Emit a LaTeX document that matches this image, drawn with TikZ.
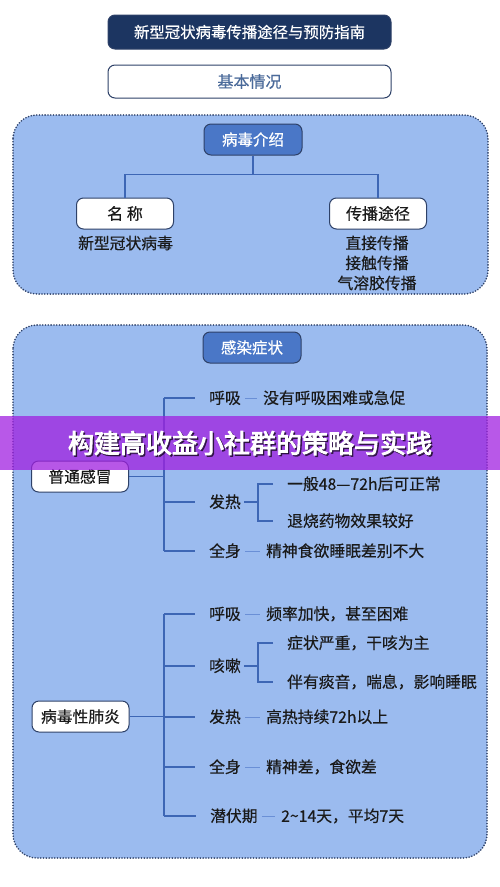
\documentclass[tikz,border=0pt]{standalone}
\usepackage{fontspec}
\setmainfont{Noto Sans CJK SC}[FakeBold=0.4]
\newfontfamily\cjkbold{Noto Sans CJK SC}[FakeBold=3.5]
\usetikzlibrary{positioning,calc}

\definecolor{navy}{HTML}{1C3561}
\definecolor{rim}{HTML}{2E4168}
\definecolor{panel}{HTML}{9BBBEF}
\definecolor{head}{HTML}{4A77C7}
\definecolor{wire}{HTML}{3D66B5}
\definecolor{stubc}{HTML}{6A8FD6}
\definecolor{plum}{HTML}{A020E0}
\definecolor{ink}{HTML}{1A1A1A}
\definecolor{grey}{HTML}{4A6A9A}

\begin{document}
\begin{tikzpicture}[x=1pt,y=-1pt,
  every node/.style={inner sep=0pt,font=\fontsize{15.8}{18}\selectfont,text=ink},
  box/.style={draw=rim,line width=1pt,rounded corners=7pt,fill=white,minimum width=97pt,minimum height=31pt},
  headbox/.style={box,fill=head,text=white,minimum width=98pt,font=\fontsize{15.5}{18}\selectfont},
  panelbox/.style={draw=rim,fill=panel,line width=1.8pt,line cap=round,dash pattern=on 0pt off 2.8pt,rounded corners=24pt},
  link/.style={draw=wire,line width=1.1pt},
  stub/.style={draw=stubc,line width=1pt},
  lbl/.style={anchor=west,text height=13.5pt,text depth=2pt},
  txt/.style={anchor=west,text height=13.5pt,text depth=2pt}]
\useasboundingbox (0,0) rectangle (500,887);

% top titles
\node[box,fill=navy,text=white,minimum width=283pt,minimum height=34pt,font=\fontsize{15.4}{18}\selectfont] (top) at (249.5,32) {新型冠状病毒传播途径与预防指南};
\node[box,text=grey,minimum width=283pt,minimum height=33pt,font=\fontsize{16}{18}\selectfont] (basic) at (249.5,81.5) {基本情况};

% panels
\draw[panelbox] (13,115) rectangle (488,294);
\draw[panelbox] (13,325) rectangle (487,858);

% virus intro
\node[headbox] (intro) at (253,139.5) {病毒介绍};
\node[box,font=\fontsize{16}{18}\selectfont] (name) at (125,213.5) {名\ 称};
\node[box,font=\fontsize{16}{18}\selectfont] (route) at (378,213.5) {传播途径};
\node (namev) at (125.5,243) {新型冠状病毒};
\node (r1) at (377,243) {直接传播};
\node (r2) at (377,263) {接触传播};
\node (r3) at (377,283) {气溶胶传播};
\draw[link] (intro.south) -- ++(0,19) coordinate (hub) -| (name.north);
\draw[link] (hub) -| (route.north);

% symptoms
\node[headbox] (symp) at (252,347.5) {感染症状};

% common cold
\node[box,minimum height=31pt] (cold) at (80,476.5) {普通感冒};
\coordinate (ct) at (164,398);
\coordinate (cb) at (164,551);
\draw[link] (ct) -- (cb);
\draw[link] (cold.east) -- (cold.east -| ct);

\node[lbl] (c1) at (209,398) {呼吸};
\node[txt] (c1a) at (263,398) {没有呼吸困难或急促};
\node[lbl] (c3) at (209,502) {发热};
\node[txt] (c3a) at (287,484) {一般48—72h后可正常};
\node[txt] (c3b) at (287,521) {退烧药物效果较好};
\node[lbl] (c4) at (209,551) {全身};
\node[txt] (c4a) at (266,551) {精神食欲睡眠差别不大};
\foreach \r in {c1,c3,c4}
  \draw[link] (\r.west -| ct) -- ([xshift=-14pt]\r.west);
\draw[stub,shorten <=4pt,shorten >=6pt] (c1.east) -- (c1a.west);
\draw[stub,shorten <=4pt,shorten >=6pt] (c4.east) -- (c4a.west);
\coordinate (c3k) at (258,502);
\draw[link] ([xshift=3pt]c3.east) -- (c3k);
\draw[link] ([xshift=-14pt]c3a.west) -| (c3k) |- ([xshift=-14pt]c3b.west);

% viral pneumonia
\node[box,minimum height=31pt] (pneu) at (80.5,716.5) {病毒性肺炎};
\coordinate (pt) at (164,614);
\coordinate (pb) at (164,816);
\draw[link] (pt) -- (pb);
\draw[link] (pneu.east) -- (pneu.east -| pt);

\node[lbl] (p1) at (209,614) {呼吸};
\node[txt] (p1a) at (266,614) {频率加快，甚至困难};
\node[lbl] (p2) at (209,666) {咳嗽};
\node[txt] (p2a) at (287,643) {症状严重，干咳为主};
\node[txt] (p2b) at (287,682) {伴有痰音，喘息，影响睡眠};
\node[lbl] (p3) at (209,717) {发热};
\node[txt] (p3a) at (266,717) {高热持续72h以上};
\node[lbl] (p4) at (209,767) {全身};
\node[txt] (p4a) at (266,767) {精神差，食欲差};
\node[lbl] (p5) at (210,816) {潜伏期};
\node[txt] (p5a) at (281,816) {2\textasciitilde 14天，平均7天};
\foreach \r in {p1,p2,p3,p4,p5}
  \draw[link] (\r.west -| pt) -- ([xshift=-14pt]\r.west);
\foreach \r in {p1,p3,p4,p5}
  \draw[stub,shorten <=4pt,shorten >=6pt] (\r.east) -- (\r a.west);
\coordinate (p2k) at (258,666);
\draw[link] ([xshift=3pt]p2.east) -- (p2k);
\draw[link] ([xshift=-14pt]p2a.west) -| (p2k) |- ([xshift=-14pt]p2b.west);

% overlay band
\node[fill=plum,fill opacity=0.75,minimum width=500pt,minimum height=54pt] (band) at (250,443) {};
\node[text=black,opacity=0.55,font=\fontsize{26}{28}\selectfont\cjkbold] (shade) at (251.5,444.5) {构建高收益小社群的策略与实践};
\node[text=white,font=\fontsize{26}{28}\selectfont\cjkbold] (banner) at (band) {构建高收益小社群的策略与实践};
\end{tikzpicture}
\end{document}
